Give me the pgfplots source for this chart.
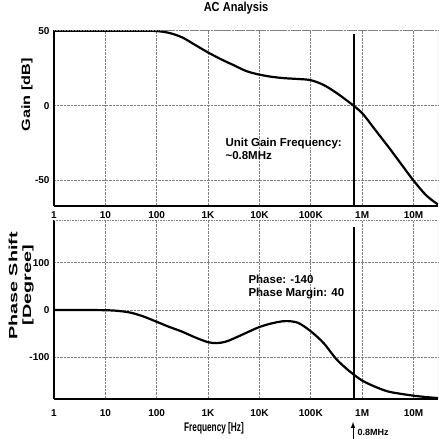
\documentclass[border=0pt]{standalone}
\usepackage{fontspec}
\setmainfont{Liberation Sans}
\newfontfamily\narrowfont[FakeStretch=0.66]{Liberation Sans}
\newfontfamily\titlefont[FakeStretch=0.85]{Liberation Sans}
\newfontfamily\gainfont[FakeStretch=1.35]{Liberation Sans}
\newfontfamily\phasefont[FakeStretch=1.65]{Liberation Sans}
\usepackage{pgfplots}
\pgfplotsset{compat=1.18}

\begin{document}
\begin{tikzpicture}
\useasboundingbox (0pt,0pt) rectangle (439pt,439pt);

% gain
\begin{axis}[
  xmode=log, scale only axis, width=384pt, height=176pt,
  at={(54pt,233pt)}, anchor=south west,
  xmin=1, xmax=3e7, ymin=-67, ymax=50.5,
  xtick={1,10,100,1000,10000,100000,1000000,10000000},
  xticklabels={\textbf{1},\textbf{10},\textbf{100},\textbf{1K},\textbf{10K},\textbf{100K},\textbf{1M},\textbf{10M}},
  ytick={-50,0,50}, yticklabels={\textbf{-50},\textbf{0},\textbf{50}},
  grid=major,
  major grid style={densely dotted, gray, line width=0.6pt},
  axis lines=left,
  axis line style={-, line width=1.4pt},
  major tick length=0pt,
  xticklabel style={font=\bfseries\fontsize{10}{12}\selectfont, yshift=-2pt},
  yticklabel style={font=\bfseries\fontsize{10}{12}\selectfont, xshift=-1pt}]
\addplot[black, line width=2.2pt, smooth, tension=0.5] coordinates {
  (1,50) (10,50) (56,50) (100,49.8) (178,48.5) (316,45.5) (562,40.5)
  (1000,35.5) (1780,31) (3160,27) (5620,23) (10000,20.7) (17800,19.2)
  (31600,18.3) (56200,17.8) (100000,17) (178000,13.8) (316000,8.5)
  (562000,2.2) (1000000,-5) (1780000,-16) (3160000,-27) (5620000,-38.5)
  (10000000,-50) (17800000,-60) (30000000,-66)
};
\addplot[black, line width=1.8pt] coordinates {(6.9e5,-67) (6.9e5,48)};
\draw[densely dotted, gray, line width=0.6pt] (rel axis cs:0,1) -- (rel axis cs:1,1) -- (rel axis cs:1,0);
\end{axis}

% phase
\begin{axis}[
  xmode=log, scale only axis, width=384pt, height=179pt,
  at={(54pt,40pt)}, anchor=south west,
  xmin=1, xmax=3e7, ymin=-188, ymax=190,
  xtick={1,10,100,1000,10000,100000,1000000,10000000},
  xticklabels={\textbf{1},\textbf{10},\textbf{100},\textbf{1K},\textbf{10K},\textbf{100K},\textbf{1M},\textbf{10M}},
  ytick={-100,0,100}, yticklabels={\textbf{-100},\textbf{0},\textbf{100}},
  grid=major,
  major grid style={densely dotted, gray, line width=0.6pt},
  axis lines=left,
  axis line style={-, line width=1.4pt},
  major tick length=0pt,
  xticklabel style={font=\bfseries\fontsize{10}{12}\selectfont, yshift=-7pt},
  yticklabel style={font=\bfseries\fontsize{10}{12}\selectfont, xshift=-1pt}]
\addplot[black, line width=2.2pt, smooth, tension=0.5] coordinates {
  (1,0) (3,0) (10,-0.5) (18,-2) (32,-6) (56,-14) (100,-25) (178,-36)
  (316,-46) (562,-58) (1000,-68) (1500,-70) (2200,-67) (3200,-60)
  (5600,-48) (10000,-36) (17800,-28) (31600,-23.5) (56000,-27)
  (100000,-45) (178000,-70) (316000,-104) (562000,-129) (1000000,-149)
  (1780000,-162) (3160000,-172) (5620000,-177) (10000000,-181)
  (17800000,-184) (30000000,-186)
};
\addplot[black, line width=1.8pt] coordinates {(6.9e5,-188) (6.9e5,176)};
\draw[densely dotted, gray, line width=0.6pt] (rel axis cs:0,1) -- (rel axis cs:1,1) -- (rel axis cs:1,0);
\end{axis}

\node[font=\titlefont\bfseries\fontsize{13}{15}\selectfont] at (236pt,431pt) {AC Analysis};
\node[rotate=90, font=\gainfont\bfseries\fontsize{12}{14}\selectfont] at (27pt,344pt) {Gain [dB]};
\node[rotate=90, font=\phasefont\bfseries\fontsize{12}{14}\selectfont] at (13pt,153pt) {Phase Shift};
\node[rotate=90, font=\phasefont\bfseries\fontsize{12}{14}\selectfont] at (28pt,154pt) {[Degree]};
\node[font=\narrowfont\bfseries\fontsize{12.5}{14}\selectfont] at (214pt,11pt) {Frequency [Hz]};
\draw[-latex, line width=1pt] (353pt,0pt) -- (353pt,17pt);
\node[anchor=west, font=\bfseries\fontsize{9}{10}\selectfont] at (354pt,7pt) {0.8MHz};
\node[anchor=west, align=left, font=\bfseries\fontsize{11.5}{13.5}\selectfont] at (222pt,290pt)
  {Unit Gain Frequency:\\\textasciitilde0.8MHz};
\node[anchor=west, align=left, font=\bfseries\fontsize{11.5}{13.5}\selectfont] at (245pt,152pt)
  {Phase: -140\\Phase Margin: 40};
\end{tikzpicture}
\end{document}
